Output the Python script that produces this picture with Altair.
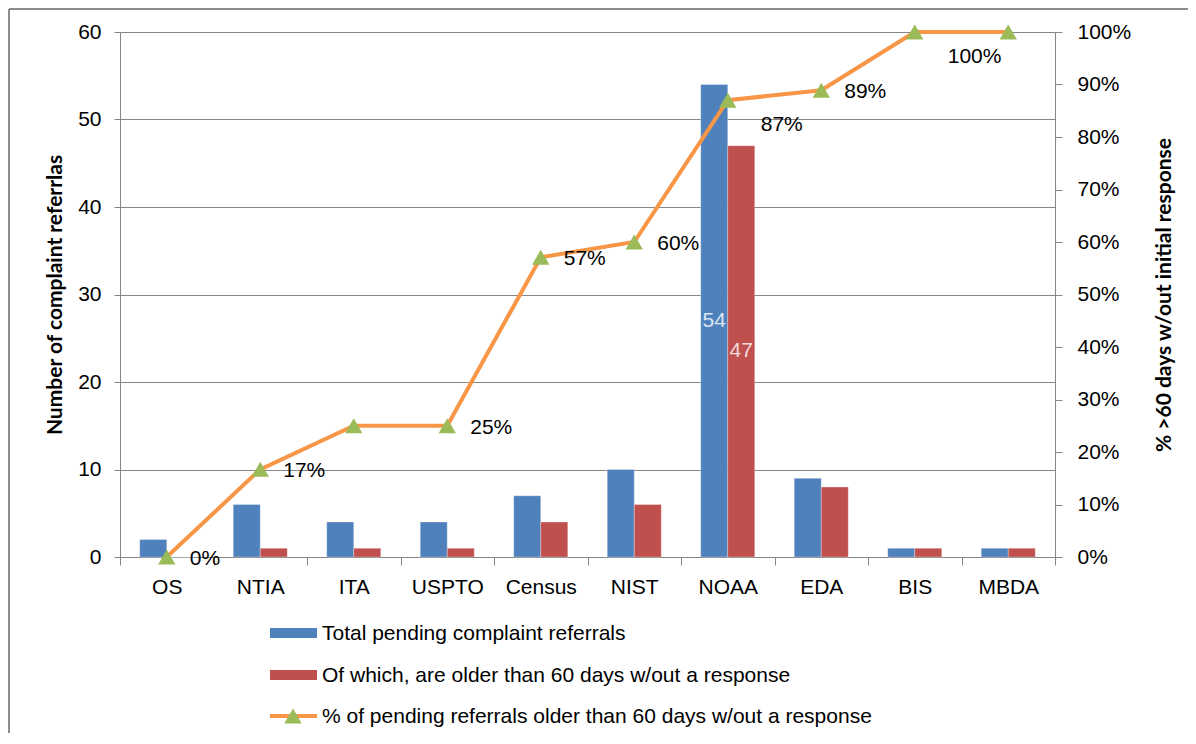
import altair as alt
import pandas as pd

# ---------------- data ----------------
categories = ["OS", "NTIA", "ITA", "USPTO", "Census", "NIST", "NOAA", "EDA", "BIS", "MBDA"]
total_pending = [2, 6, 4, 4, 7, 10, 54, 9, 1, 1]
older_than_60 = [0, 1, 1, 1, 4, 6, 47, 8, 1, 1]
pct_older = [0.0, 0.167, 0.25, 0.25, 0.571, 0.60, 0.870, 0.889, 1.0, 1.0]

series_names = ["Total pending complaint referrals",
                "Of which, are older than 60 days w/out a response"]
line_name = "% of pending referrals older than 60 days w/out a response"
left_title = "Number of complaint referrlas"
right_title = "% >60 days w/out initial response"
left_ticks = [0, 10, 20, 30, 40, 50, 60]
right_ticks = [0, 0.1, 0.2, 0.3, 0.4, 0.5, 0.6, 0.7, 0.8, 0.9, 1.0]

bar_labelled = ["NOAA"]
pct_below = ["NOAA", "BIS"]
pct_hidden = ["ITA", "MBDA"]

BLUE = "#4F81BD"
RED = "#C0504D"
ORANGE = "#F79646"
GREEN = "#9BBB59"
GRAY = "#868686"
FONT = "Liberation Sans"
TFONT = "Lato"
FS = 21
TFS = 21

W, H = 935, 525

df = pd.DataFrame({"category": categories, "total": total_pending,
                   "older": older_than_60, "pct": pct_older})
long_df = pd.concat([
    pd.DataFrame({"category": categories, "series": series_names[0], "value": total_pending}),
    pd.DataFrame({"category": categories, "series": series_names[1], "value": older_than_60}),
], ignore_index=True)

xscale = alt.Scale(type="band", domain=categories, paddingInner=0, paddingOuter=0)
x_axis = alt.Axis(title=None, labelFont=FONT, labelFontSize=FS, labelColor="black",
                  labelAngle=0, labelPadding=11, tickBand="extent", tickSize=8,
                  tickColor=GRAY, domainColor=GRAY, grid=False)
x_main = alt.X("category:N", sort=categories, scale=xscale, axis=x_axis)
xoff = alt.XOffset("series:N", sort=series_names,
                   scale=alt.Scale(domain=series_names, paddingInner=0, paddingOuter=0.73))

left_axis = alt.Axis(values=left_ticks, title=left_title, titleFont=TFONT,
                     titleFontSize=TFS, titleFontWeight="bold", titleColor="black",
                     titlePadding=12, labelFont=FONT, labelFontSize=FS,
                     labelColor="black", labelPadding=13, tickSize=6,
                     tickColor=GRAY, domainColor=GRAY, grid=True,
                     gridColor=GRAY, gridWidth=1)
left_scale = alt.Scale(domain=[0, 60], nice=False)

# ---------------- left (counts) ----------------
bars = alt.Chart(long_df).mark_bar(stroke="white", strokeWidth=0.5, strokeOpacity=0.6).encode(
    x=x_main,
    xOffset=xoff,
    y=alt.Y("value:Q", scale=left_scale, axis=left_axis),
    color=alt.Color("series:N", scale=alt.Scale(domain=series_names, range=[BLUE, RED]),
                    legend=None),
)


def bar_text(series, colr):
    return alt.Chart(long_df).transform_filter(
        alt.FieldOneOfPredicate(field="category", oneOf=bar_labelled)
    ).transform_filter(
        alt.datum.series == series
    ).transform_calculate(mid="datum.value / 2").mark_text(
        font=FONT, fontSize=FS, color=colr, baseline="middle", align="center"
    ).encode(x=x_main, xOffset=xoff,
             y=alt.Y("mid:Q", scale=left_scale, axis=left_axis), text="value:Q")


left = alt.layer(bars, bar_text(series_names[0], "#DCE6F2"),
                 bar_text(series_names[1], "#F2DCDB"))

# ---------------- right (percent) ----------------
y_pct = alt.Y("pct:Q", scale=alt.Scale(domain=[0, 1], nice=False),
              axis=alt.Axis(orient="right", format="%", values=right_ticks, title=right_title,
                            titleFont=TFONT, titleFontSize=TFS, titleFontWeight="bold",
                            titleColor="black", titleAngle=270, titlePadding=44,
                            labelFont=FONT, labelFontSize=FS, labelColor="black",
                            labelPadding=15, tickSize=7, tickColor=GRAY,
                            domainColor=GRAY, grid=False))

line = alt.Chart(df).mark_line(color=ORANGE, strokeWidth=4).encode(x=x_main, y=y_pct)
points = alt.Chart(df).mark_point(shape="triangle-up", filled=True, size=300,
                                  color=GREEN, opacity=1).encode(x=x_main, y=y_pct)
pct_right = alt.Chart(df).transform_filter(
    ~alt.FieldOneOfPredicate(field="category", oneOf=pct_below + pct_hidden)
).mark_text(font=FONT, fontSize=FS, color="black", align="left", baseline="middle",
            dx=23, dy=2).encode(x=x_main, y=y_pct,
                                text=alt.Text("pct:Q", format=".0%"))
pct_under = alt.Chart(df).transform_filter(
    alt.FieldOneOfPredicate(field="category", oneOf=pct_below)
).mark_text(font=FONT, fontSize=FS, color="black", align="left", baseline="middle",
            dx=33, dy=25).encode(x=x_main, y=y_pct,
                                 text=alt.Text("pct:Q", format=".0%"))

right = alt.layer(line, points, pct_right, pct_under)

# ---------------- legend (drawn below the plot) ----------------
one = pd.DataFrame({"label": [series_names[0]]})
two = pd.DataFrame({"label": [series_names[1]]})
three = pd.DataFrame({"label": [line_name]})

leg1_sym = alt.Chart(one).mark_rect(color=BLUE).encode(
    x=alt.value(150), x2=alt.value(197), y=alt.value(596), y2=alt.value(606))
leg1_txt = alt.Chart(one).mark_text(font=FONT, fontSize=FS, align="left", baseline="middle",
                                    color="black").encode(
    x=alt.value(202), y=alt.value(602), text="label:N")
leg2_sym = alt.Chart(two).mark_rect(color=RED).encode(
    x=alt.value(150), x2=alt.value(197), y=alt.value(638), y2=alt.value(648))
leg2_txt = alt.Chart(two).mark_text(font=FONT, fontSize=FS, align="left", baseline="middle",
                                    color="black").encode(
    x=alt.value(202), y=alt.value(644), text="label:N")
leg3_line = alt.Chart(three).mark_rule(color=ORANGE, strokeWidth=4).encode(
    x=alt.value(150), x2=alt.value(197), y=alt.value(684))
leg3_pt = alt.Chart(three).mark_point(shape="triangle-up", filled=True, size=300,
                                      color=GREEN, opacity=1).encode(
    x=alt.value(173), y=alt.value(684))
leg3_txt = alt.Chart(three).mark_text(font=FONT, fontSize=FS, align="left", baseline="middle",
                                      color="black").encode(
    x=alt.value(202), y=alt.value(685), text="label:N")

# outer chart border (top and left edges visible in the reference)
border_top = alt.Chart(one).mark_rule(color="#8C8C8C", strokeWidth=2).encode(
    x=alt.value(-111), x2=alt.value(1068), y=alt.value(-23))
border_left = alt.Chart(one).mark_rule(color="#8C8C8C", strokeWidth=2).encode(
    x=alt.value(-111), y=alt.value(-23), y2=alt.value(720))

chart = alt.layer(
    alt.layer(left, right).resolve_scale(y="independent"),
    leg1_sym, leg1_txt, leg2_sym, leg2_txt, leg3_line, leg3_pt, leg3_txt,
    border_top, border_left,
).properties(
    width=W, height=H,
    padding={"left": 112, "top": 24, "right": 133, "bottom": 176},
    autosize=alt.AutoSizeParams(type="none"),
    background="white",
).configure_view(stroke=None)

chart.save("out.html", embed_options={"renderer": "svg", "actions": False})
